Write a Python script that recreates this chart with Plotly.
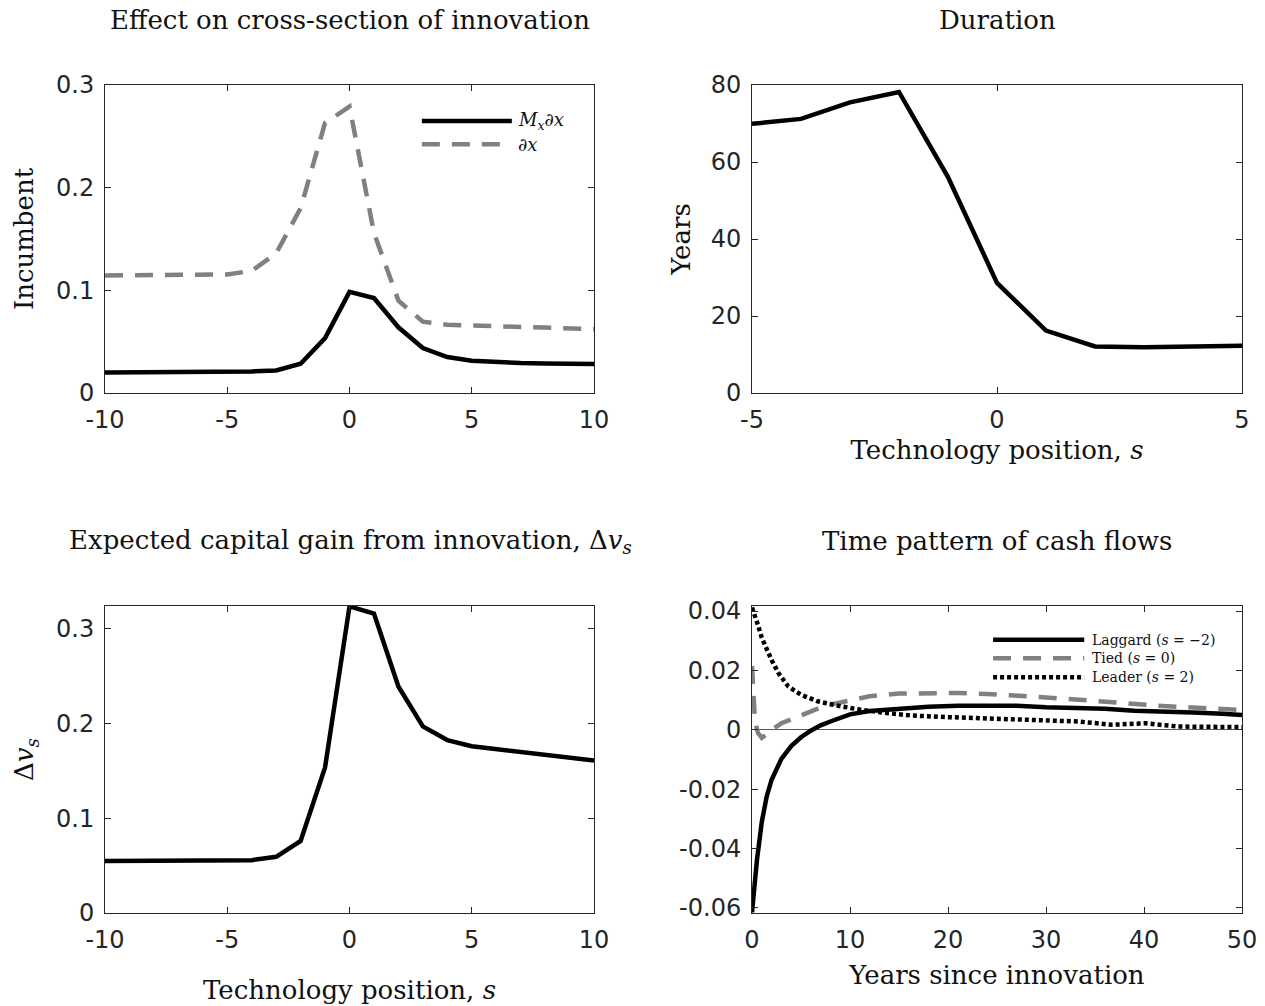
import plotly.graph_objects as go

# ---- data -------------------------------------------------------------
s_wide = list(range(-10, 11))
s_narrow = list(range(-5, 6))

# cross-section of innovation (incumbent)
innov_mx_dx = [0.020, 0.020, 0.020, 0.020, 0.020, 0.0202, 0.021, 0.022, 0.0285, 0.0535,
               0.0985, 0.0925, 0.064, 0.0438, 0.035, 0.0315, 0.030, 0.0292, 0.0288, 0.0285, 0.0282]
innov_dx = [0.1145, 0.1145, 0.1145, 0.1145, 0.1145, 0.1155, 0.119, 0.136, 0.180, 0.263,
            0.279, 0.156, 0.090, 0.0695, 0.0665, 0.0655, 0.065, 0.0643, 0.0637, 0.063, 0.0622]

# duration in years
duration_years = [69.9, 71.2, 75.5, 78.2, 56.1, 28.6, 16.2, 12.1, 11.9, 12.1, 12.3]

# expected capital gain from innovation
gain_dv = [0.0548, 0.0548, 0.0548, 0.0548, 0.0548, 0.0549, 0.0558, 0.0593, 0.076, 0.1536,
           0.3236, 0.316, 0.239, 0.197, 0.1825, 0.176, 0.1728, 0.170, 0.167, 0.164, 0.161]

# time pattern of cash flows
t_laggard = [0, 0.25, 0.5, 1, 1.5, 2, 3, 4, 5, 6, 7, 8, 10, 12, 15, 18, 21, 24, 27, 30,
             33, 36, 39, 42, 45, 48, 50]
cf_laggard = [-0.0615, -0.052, -0.0440, -0.0310, -0.0225, -0.0168, -0.0098, -0.0055, -0.0025,
              -0.0003, 0.0015, 0.0028, 0.0052, 0.0063, 0.0072, 0.0078, 0.0081, 0.0082, 0.0081,
              0.0076, 0.0073, 0.0071, 0.0064, 0.0062, 0.0058, 0.0054, 0.0050]
t_tied = [0, 0.15, 0.3, 0.6, 1, 1.5, 2, 3, 4, 5, 6, 7, 8, 10, 12, 15, 18, 21, 24, 27, 30,
          33, 36, 39, 42, 45, 48, 50]
cf_tied = [0.0215, 0.010, 0.003, -0.001, -0.0027, -0.0015, 0.0, 0.0022, 0.0036, 0.0050,
           0.0062, 0.0075, 0.0085, 0.0100, 0.0113, 0.0122, 0.0124, 0.0124, 0.0121, 0.0116,
           0.0109, 0.0102, 0.0094, 0.0085, 0.0080, 0.0075, 0.0070, 0.0067]
t_leader = [0, 0.3, 0.6, 1, 1.5, 2, 2.7, 3.7, 5, 6.7, 8.8, 11.2, 13.9, 16.3, 19.7, 23.1,
            26.5, 29.9, 33.3, 36.7, 40.1, 43.5, 46.9, 50]
cf_leader = [0.0412, 0.0385, 0.0354, 0.0310, 0.0268, 0.0235, 0.0191, 0.0146, 0.0118, 0.0096,
             0.0081, 0.0067, 0.0056, 0.0048, 0.0043, 0.0039, 0.0034, 0.0030, 0.0028, 0.0017,
             0.0022, 0.0011, 0.0009, 0.0009]

# ---- styling ------------------------------------------------------------
W, H = 1265, 1006
AX = "#262626"
GRAY = "#808080"
SERIF = "DejaVu Serif"
SANS = "DejaVu Sans"
TICKFONT = dict(family=SANS, size=24, color=AX)
TITLEFONT = dict(family=SERIF, size=26, color="#111111")
LW = 4.5
DASH = "18px,12px"
DOT = "4px,3px"


def px_x(a, b):
    return [a / W, b / W]


def px_y(top, bottom):
    return [1 - bottom / H, 1 - top / H]


fig = go.Figure()

# top-left: incumbent innovation
fig.add_trace(go.Scatter(x=s_wide, y=innov_dx, mode="lines", name="∂x",
                         line=dict(color=GRAY, width=LW, dash=DASH), xaxis="x", yaxis="y"))
fig.add_trace(go.Scatter(x=s_wide, y=innov_mx_dx, mode="lines", name="M_x ∂x",
                         line=dict(color="black", width=LW), xaxis="x", yaxis="y"))

# top-right: duration
fig.add_trace(go.Scatter(x=s_narrow, y=duration_years, mode="lines", name="Duration",
                         line=dict(color="black", width=LW), xaxis="x2", yaxis="y2"))

# bottom-left: capital gain
fig.add_trace(go.Scatter(x=s_wide, y=gain_dv, mode="lines", name="Δv_s",
                         line=dict(color="black", width=LW), xaxis="x3", yaxis="y3"))

# bottom-right: cash flows
fig.add_trace(go.Scatter(x=t_tied, y=cf_tied, mode="lines", name="Tied (s = 0)",
                         line=dict(color=GRAY, width=LW, dash=DASH), xaxis="x4", yaxis="y4"))
fig.add_trace(go.Scatter(x=t_leader, y=cf_leader, mode="lines", name="Leader (s = 2)",
                         line=dict(color="black", width=LW, dash=DOT), xaxis="x4", yaxis="y4"))
fig.add_trace(go.Scatter(x=t_laggard, y=cf_laggard, mode="lines", name="Laggard (s = -2)",
                         line=dict(color="black", width=LW), xaxis="x4", yaxis="y4"))


def axis(domain, rng, tickvals, ticktext, anchor, title=None, standoff=10, **kw):
    d = dict(domain=domain, range=rng, tickvals=tickvals, ticktext=ticktext, anchor=anchor,
             showline=True, linecolor=AX, linewidth=1, mirror="ticks", ticks="inside",
             ticklen=6, tickwidth=1, tickcolor=AX, tickfont=TICKFONT, showgrid=False,
             zeroline=False, ticklabelstandoff=5, automargin=False)
    if title:
        d["title"] = dict(text=title, font=TITLEFONT, standoff=standoff)
    d.update(kw)
    return d


xl = px_x(105, 594)
xr = px_x(752, 1242)
yt = px_y(85, 393)
yb = px_y(606, 913)

fig.update_layout(
    width=W, height=H, margin=dict(l=0, r=0, t=0, b=0, autoexpand=False),
    paper_bgcolor="white", plot_bgcolor="white", showlegend=False,
    xaxis=axis(xl, [-10, 10], [-10, -5, 0, 5, 10], ["-10", "-5", "0", "5", "10"], "y"),
    yaxis=axis(yt, [0, 0.3], [0, 0.1, 0.2, 0.3], ["0", "0.1", "0.2", "0.3"], "x",
               title="Incumbent", standoff=14),
    xaxis2=axis(xr, [-5, 5], [-5, 0, 5], ["-5", "0", "5"], "y2",
                title="Technology position, <i>s</i>", standoff=8),
    yaxis2=axis(yt, [0, 80], [0, 20, 40, 60, 80], ["0", "20", "40", "60", "80"], "x2",
                title="Years", standoff=12),
    xaxis3=axis(xl, [-10, 10], [-10, -5, 0, 5, 10], ["-10", "-5", "0", "5", "10"], "y3",
                title="Technology position, <i>s</i>", standoff=28),
    yaxis3=axis(yb, [0, 0.324], [0, 0.1, 0.2, 0.3], ["0", "0.1", "0.2", "0.3"], "x3",
                title="Δ<i>v<sub>s</sub></i>", standoff=14),
    xaxis4=axis(xr, [0, 50], [0, 10, 20, 30, 40, 50], ["0", "10", "20", "30", "40", "50"], "y4",
                title="Years since innovation", standoff=13),
    yaxis4=axis(yb, [-0.0617, 0.0417], [-0.06, -0.04, -0.02, 0, 0.02, 0.04],
                ["-0.06", "-0.04", "-0.02", "0", "0.02", "0.04"], "x4",
                zeroline=True, zerolinecolor="#5a5a5a", zerolinewidth=1),
)

# panel titles
titles = [
    ("Effect on cross-section of innovation", 350, 20),
    ("Duration", 997, 20),
    ("Expected capital gain from innovation, Δ<i>v<sub>s</sub></i>", 350, 541),
    ("Time pattern of cash flows", 997, 541),
]
for text, cx, cy in titles:
    fig.add_annotation(text=text, x=cx / W, y=1 - cy / H, xref="paper", yref="paper",
                       xanchor="center", yanchor="middle", showarrow=False, font=TITLEFONT)


# legend keys (drawn inside the axes, no frame)
def legend_entry(xref, yref, x0, x1, y, color, dash, label, size, gap):
    fig.add_shape(type="line", xref=xref, yref=yref, x0=x0, x1=x1, y0=y, y1=y,
                  line=dict(color=color, width=LW, dash=dash))
    fig.add_annotation(text=label, xref=xref, yref=yref, x=x1 + gap, y=y,
                       xanchor="left", yanchor="middle", showarrow=False,
                       font=dict(family=SERIF, size=size, color="#111111"))


legend_entry("x domain", "y domain", 0.648, 0.832, 0.883, "black", "solid",
             "<i>M<sub>x</sub></i>∂<i>x</i>", 18, 0.008)
legend_entry("x domain", "y domain", 0.648, 0.832, 0.808, GRAY, DASH, "∂<i>x</i>", 18, 0.008)

legend_entry("x4 domain", "y4 domain", 0.492, 0.678, 0.890, "black", "solid",
             "Laggard (<i>s</i> = −2)", 14, 0.012)
legend_entry("x4 domain", "y4 domain", 0.492, 0.678, 0.830, GRAY, DASH,
             "Tied (<i>s</i> = 0)", 14, 0.012)
legend_entry("x4 domain", "y4 domain", 0.492, 0.678, 0.768, "black", DOT,
             "Leader (<i>s</i> = 2)", 14, 0.012)

fig.write_html("out.html")
